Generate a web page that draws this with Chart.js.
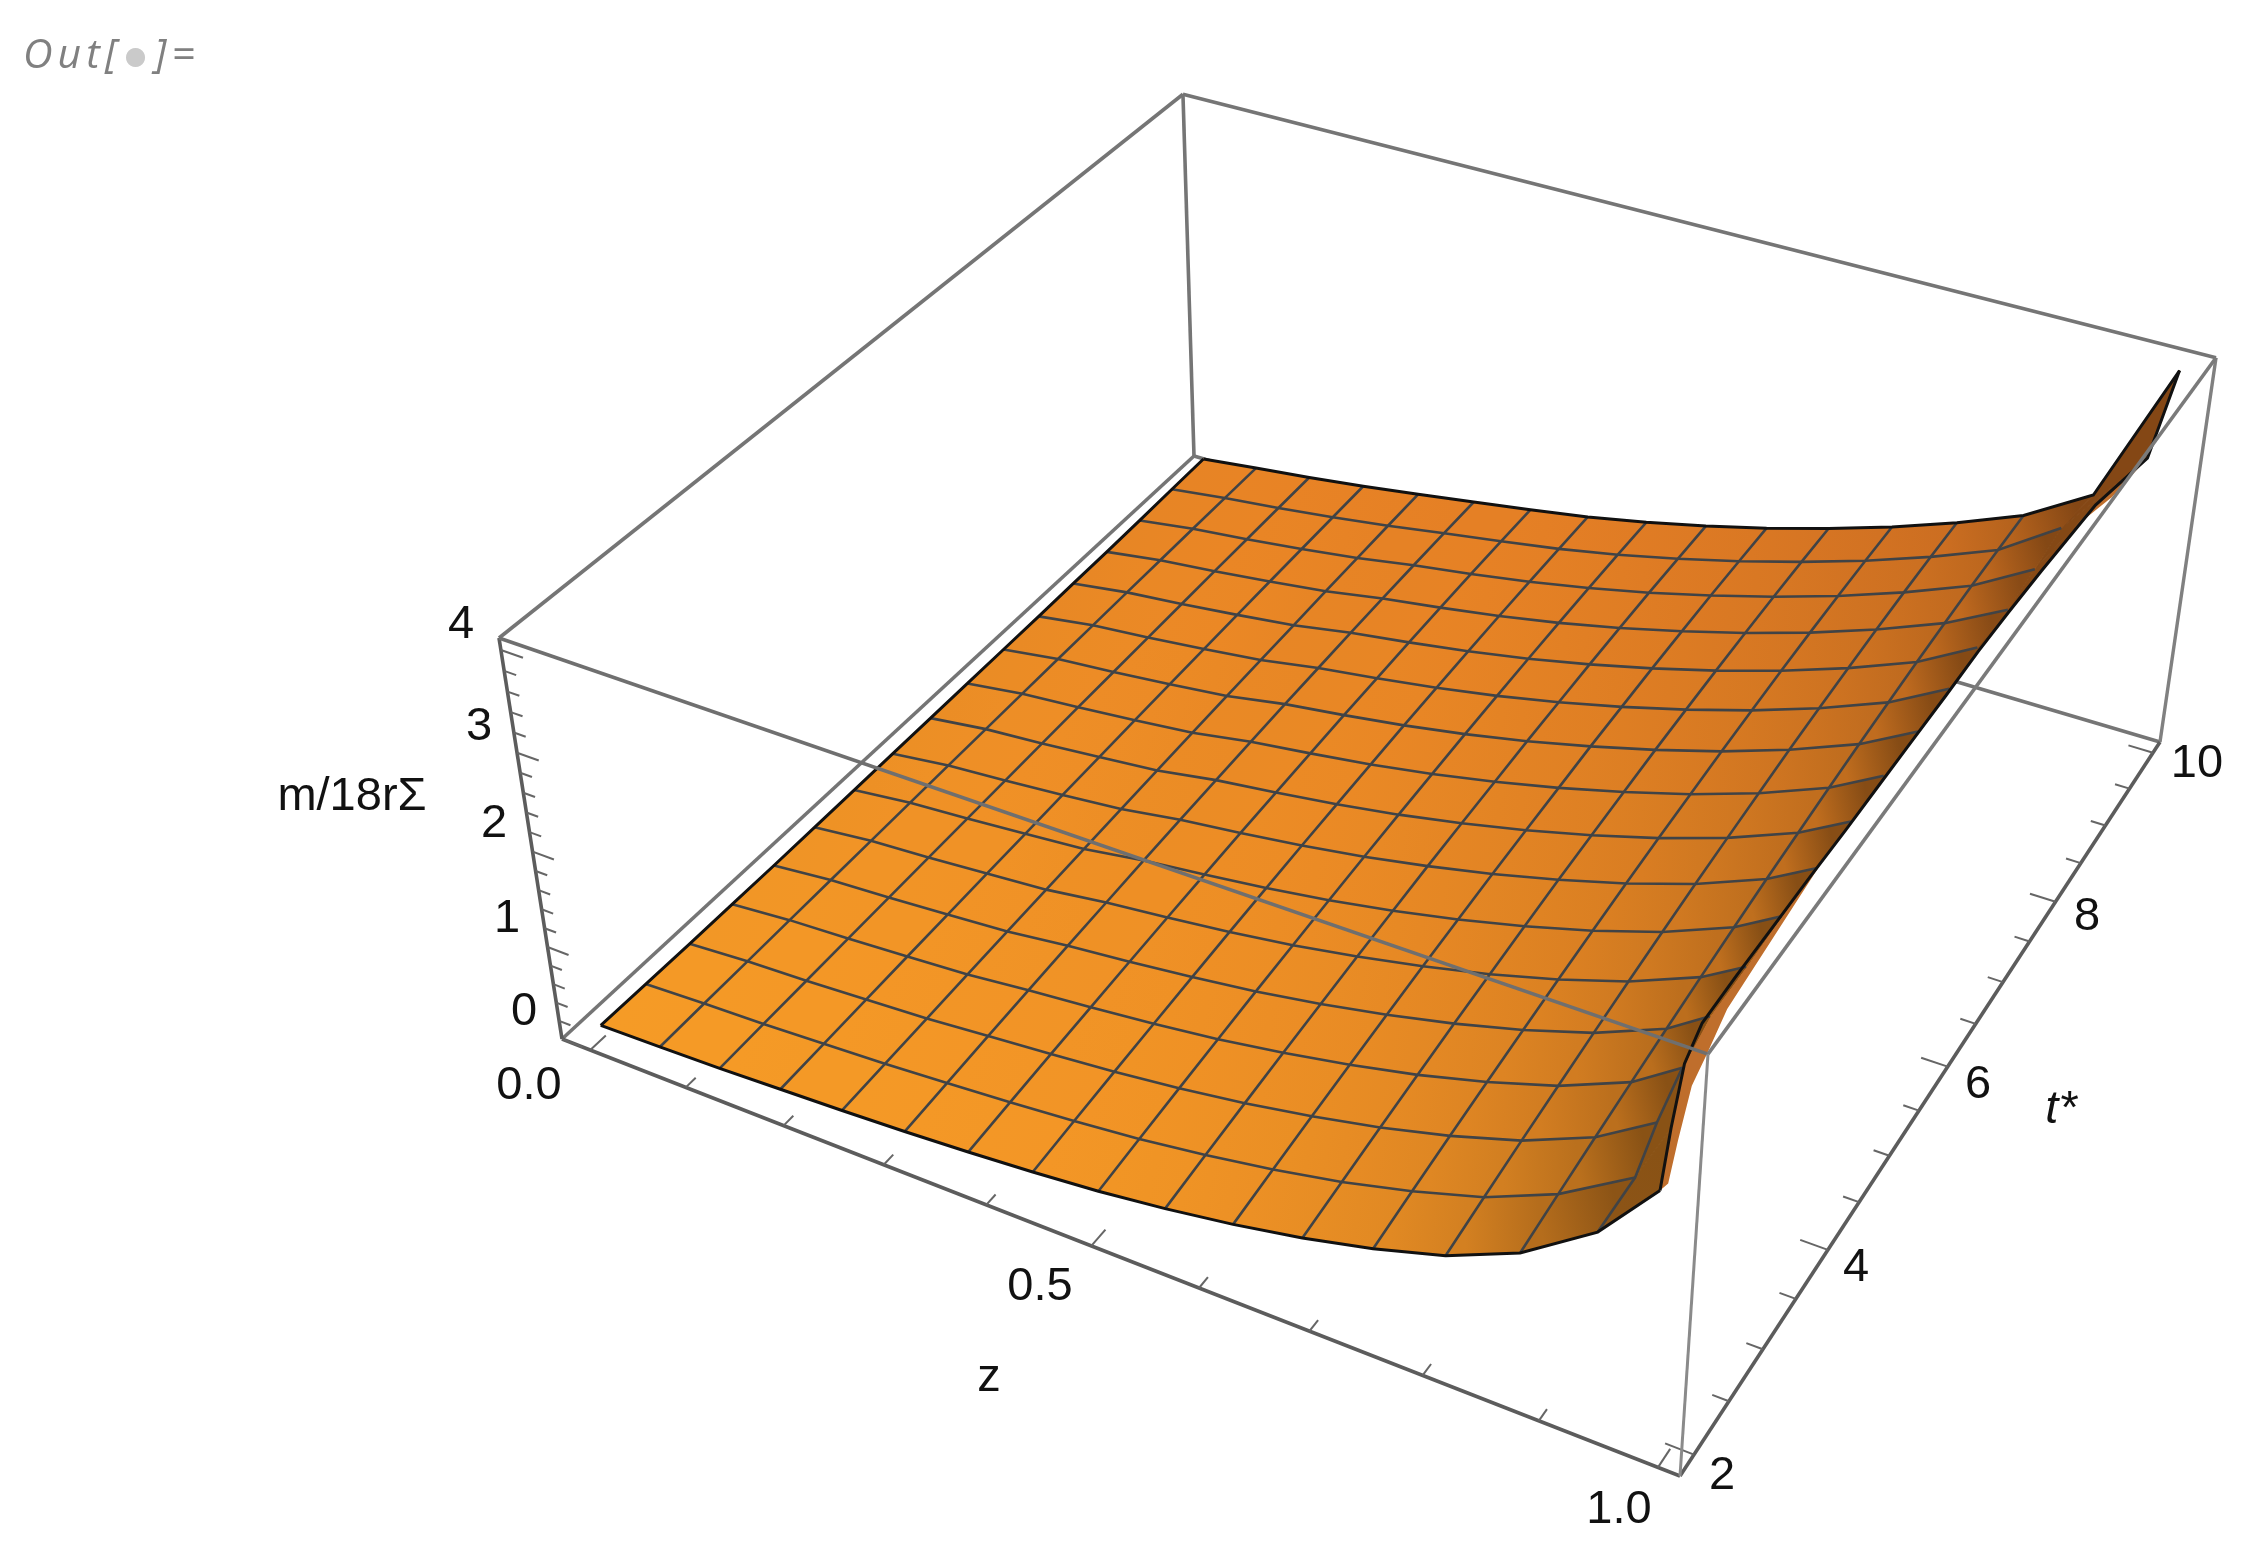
<!DOCTYPE html>
<html>
<head>
<meta charset="utf-8">
<title>m/18r surface</title>
<script src="https://cdn.jsdelivr.net/npm/chart.js@4"></script>
<style>
	html, body { margin: 0; padding: 0; background: #fff; }
	#wrap { position: relative; width: 2247px; height: 1550px; }
	#cellLabel { position: absolute; left: 23px; top: 24px; font: italic 41px "Open Sans"; letter-spacing: 5px; color: #808080; white-space: nowrap; }
	#cellLabel span { color: #cacaca; font-family: "DejaVu Sans"; font-size: 25px; margin: 0 3px 0 3px; position: relative; top: -4px; }
</style>
</head>
<body>
<div id="wrap">
	<div id="cellLabel">Out[<span>●</span>]=</div>
	<canvas id="chartSurface" width="2247" height="1550"></canvas>
</div>
<script>
// axis ranges of the box
const zRange = [-0.02306, 1.0252];
const tRange = [1.804, 10.151];
const mRange = [0, 4.115];

// ticks
const zTicks = [0, 0.1, 0.2, 0.3, 0.4, 0.5, 0.6, 0.7, 0.8, 0.9, 1];
const zTickLabels = ['0.0', '0.5', '1.0'];
const tTicks = [2, 2.5, 3, 3.5, 4, 4.5, 5, 5.5, 6, 6.5, 7, 7.5, 8, 8.5, 9, 9.5, 10];
const tTickLabels = ['2', '4', '6', '8', '10'];
const mTicks = [0, 0.2, 0.4, 0.6, 0.8, 1, 1.2, 1.4, 1.6, 1.8, 2, 2.2, 2.4, 2.6, 2.8, 3, 3.2, 3.4, 3.6, 3.8, 4];
const mTickLabels = ['0', '1', '2', '3', '4'];

// mesh positions
const tNodes = [2, 2.5, 3, 3.5, 4, 4.5, 5, 5.5, 6, 6.5, 7, 7.5, 8, 8.5, 9, 9.5, 10];
const zNodes = [0, 0.0625, 0.125, 0.1875, 0.25, 0.3125, 0.375, 0.4375, 0.5, 0.5625, 0.625, 0.6875, 0.75, 0.8125, 0.875];

// surface height, one row per t, one column per z
const mValues = [
	[0.06, 0.075, 0.095, 0.125, 0.155, 0.19, 0.235, 0.29, 0.355, 0.445, 0.555, 0.69, 0.86, 1.07, 1.38],
	[0.055, 0.087, 0.112, 0.146, 0.182, 0.23, 0.281, 0.342, 0.414, 0.51, 0.627, 0.767, 0.942, 1.155, 1.461],
	[0.05, 0.098, 0.127, 0.166, 0.207, 0.269, 0.325, 0.391, 0.47, 0.572, 0.695, 0.841, 1.019, 1.236, 1.537],
	[0.05, 0.109, 0.143, 0.186, 0.232, 0.305, 0.366, 0.438, 0.523, 0.631, 0.759, 0.91, 1.093, 1.312, 1.61],
	[0.05, 0.12, 0.157, 0.205, 0.256, 0.34, 0.406, 0.483, 0.574, 0.687, 0.821, 0.978, 1.163, 1.385, 1.679],
	[0.055, 0.13, 0.172, 0.224, 0.279, 0.372, 0.444, 0.525, 0.621, 0.74, 0.879, 1.04, 1.23, 1.454, 1.745],
	[0.06, 0.14, 0.186, 0.241, 0.301, 0.403, 0.479, 0.564, 0.666, 0.789, 0.933, 1.099, 1.291, 1.518, 1.806],
	[0.065, 0.15, 0.199, 0.259, 0.324, 0.431, 0.511, 0.601, 0.707, 0.836, 0.984, 1.154, 1.349, 1.578, 1.863],
	[0.07, 0.159, 0.212, 0.275, 0.344, 0.456, 0.54, 0.633, 0.744, 0.876, 1.028, 1.201, 1.399, 1.63, 1.912],
	[0.075, 0.168, 0.225, 0.291, 0.364, 0.479, 0.566, 0.662, 0.777, 0.912, 1.068, 1.245, 1.445, 1.678, 1.958],
	[0.08, 0.177, 0.236, 0.306, 0.383, 0.502, 0.592, 0.692, 0.81, 0.949, 1.109, 1.289, 1.491, 1.726, 2.003],
	[0.085, 0.184, 0.247, 0.32, 0.401, 0.519, 0.612, 0.715, 0.836, 0.978, 1.14, 1.323, 1.528, 1.764, 2.039],
	[0.095, 0.191, 0.257, 0.333, 0.416, 0.536, 0.631, 0.736, 0.86, 1.005, 1.169, 1.354, 1.561, 1.798, 2.072],
	[0.1, 0.198, 0.267, 0.345, 0.432, 0.549, 0.646, 0.753, 0.879, 1.026, 1.193, 1.38, 1.588, 1.826, 2.098],
	[0.11, 0.205, 0.275, 0.356, 0.446, 0.56, 0.658, 0.767, 0.895, 1.043, 1.212, 1.4, 1.609, 1.848, 2.119],
	[0.125, 0.21, 0.283, 0.366, 0.459, 0.566, 0.666, 0.775, 0.904, 1.054, 1.223, 1.413, 1.622, 1.862, 2.132],
	[0.137, 0.215, 0.29, 0.375, 0.47, 0.57, 0.67, 0.78, 0.91, 1.06, 1.23, 1.42, 1.63, 1.87, 2.14],
];

// last mesh line: it folds away near z = 1 so z is read per row
const rimZ = [0.9375, 0.9375, 0.9255, 0.917, 0.911, 0.913, 0.915, 0.917, 0.92, 0.922, 0.926, 0.928, 0.928, 0.931, 0.931, 0.931, 0.9375];
const rimM = [1.87, 1.9, 1.9, 1.93, 1.95, 2, 2.07, 2.13, 2.19, 2.25, 2.31, 2.36, 2.4, 2.42, 2.47, 2.54, 2.55];

// outer edge of the surface
const edgeZ = [0.985, 0.964, 0.945, 0.931, 0.931, 0.934, 0.936, 0.939, 0.941, 0.944, 0.947, 0.95, 0.952, 0.957, 0.978, 1, 1];
const edgeM = [2.487, 2.5, 2.56, 2.43, 2.44, 2.5, 2.54, 2.59, 2.63, 2.69, 2.75, 2.82, 2.84, 2.91, 3.28, 3.47, 4.015];

// underside seen past the edge
const foldT = [2, 2.5, 3, 3.5, 4, 6, 8, 9, 9.5, 9.5];
const foldZ = [0.991, 0.97, 0.952, 0.936, 0.925, 0.912, 0.935, 0.957, 0.973, 1];
const foldM = [2.58, 2.4, 2.375, 2.13, 2.08, 2.04, 2.57, 2.94, 2.99, 3.47];

// camera fitted to the box, works on box coordinates 0..1
const camera = [
	[914.74, 891.66, -99.15, 562],
	[258.42, -483.83, -447.22, 1039],
	[-0.12099, 0.21747, -0.07245, 1],
];
const zTickShift = 0.007;

function project(z, t, m) {
	let u = (z - zRange[0]) / (zRange[1] - zRange[0]);
	let v = (t - tRange[0]) / (tRange[1] - tRange[0]);
	let w = (m - mRange[0]) / (mRange[1] - mRange[0]);
	let p = camera.map((r) => r[0] * u + r[1] * v + r[2] * w + r[3]);
	return { x: p[0] / p[2], y: p[1] / p[2] };
}

// full node lists, rim and edge added on the right
const zAt = (i, j) => (j < 15 ? zNodes[j] : j === 15 ? rimZ[i] : edgeZ[i]);
const mAt = (i, j) => (j < 15 ? mValues[i][j] : j === 15 ? rimM[i] : edgeM[i]);
const node = (i, j) => project(zAt(i, j), tNodes[i], mAt(i, j));

let ctx = document.getElementById('chartSurface').getContext('2d');
let datasets = [];

function addLine(points, color, width) {
	datasets.push({
		data: points,
		showLine: true,
		borderColor: color,
		borderWidth: width,
		pointRadius: 0,
		fill: false,
		order: -datasets.length,
	});
}

function addShape(points, color) {
	datasets.push({
		data: points.concat([points[0]]),
		showLine: true,
		borderColor: 'rgba(0,0,0,0)',
		borderWidth: 0,
		backgroundColor: color,
		pointRadius: 0,
		fill: 'shape',
		order: -datasets.length,
	});
}

// shading, darker where the surface climbs quicker
function nodeColor(i, j) {
	let a = Math.max(j - 1, 0);
	let b = Math.min(j + 1, 16);
	let slope = (mAt(i, b) - mAt(i, a)) / Math.max(zAt(i, b) - zAt(i, a), 0.04);
	let shade = Math.max(1 / Math.sqrt(1 + (slope / 7) * (slope / 7)), 0.56);
	let r = (245 - 10 * i / 16) * shade;
	let g = (155 - 22 * i / 16 - 8 * j / 16) * shade;
	let c = 38 * shade;
	return `rgb(${Math.round(r)},${Math.round(g)},${Math.round(c)})`;
}

const corner = (zi, ti, mi) => project(zRange[zi], tRange[ti], mRange[mi]);

// box parts behind the surface
const boxBack = '#757575';
addLine([corner(0, 0, 1), corner(0, 1, 1)], boxBack, 3.6);
addLine([corner(0, 1, 1), corner(1, 1, 1)], boxBack, 3.6);
addLine([corner(0, 1, 0), corner(0, 1, 1)], boxBack, 3.6);
addLine([corner(0, 0, 0), corner(0, 1, 0)], boxBack, 3.6);
addLine([corner(0, 1, 0), corner(1, 1, 0)], boxBack, 3.6);
addLine([corner(1, 1, 0), corner(1, 1, 1)], '#808080', 3.4);
addLine([corner(0, 0, 0), corner(1, 0, 0)], '#5c5c5c', 3.6);
addLine([corner(1, 0, 0), corner(1, 1, 0)], '#5c5c5c', 3.6);
addLine([corner(0, 0, 0), corner(0, 0, 1)], '#5c5c5c', 3.6);

// ticks
zTicks.forEach((z, k) => {
	let len = k % 5 === 0 ? 0.17 : 0.11;
	addLine([project(z + zTickShift, tRange[0], 0), project(z + zTickShift, tRange[0] + len, 0)], '#666666', 2);
});
tTicks.forEach((t, k) => {
	let len = k % 4 === 0 ? 0.024 : 0.014;
	addLine([project(zRange[1], t, 0), project(zRange[1] - len, t, 0)], '#666666', 2);
});
mTicks.forEach((m, k) => {
	let len = k % 5 === 0 ? 0.022 : 0.012;
	addLine([project(zRange[0], tRange[0], m), project(zRange[0] + len, tRange[0], m)], '#666666', 2);
});

// underside first
let foldPoints = foldT.map((t, k) => project(foldZ[k], t, foldM[k]));
let edgeBack = [];
for (let i = 15; i >= 0; i--) edgeBack.push(node(i, 16));
addShape(foldPoints.concat(edgeBack), '#bf6e2c');

// mesh cells, last column first so the rest sits over it
for (let j = 15; j >= 0; j--) {
	for (let i = 0; i < 16; i++) {
		let a = node(i, j);
		let b = node(i + 1, j);
		let c = node(i + 1, j + 1);
		let d = node(i, j + 1);
		let grad = ctx.createLinearGradient((a.x + b.x) / 2, (a.y + b.y) / 2, (c.x + d.x) / 2, (c.y + d.y) / 2);
		let left = nodeColor(i, j);
		let right = nodeColor(i, j + 1);
		grad.addColorStop(0, left);
		grad.addColorStop(1, right);
		addShape([a, b, c, d], grad);
		datasets[datasets.length - 1].borderColor = grad;
		datasets[datasets.length - 1].borderWidth = 1;
	}
}

// mesh lines, the last z line only shows at the low t end, further up it merges into the edge
const meshColor = '#404346';
for (let i = 1; i < 16; i++) {
	let line = [];
	for (let j = 0; j <= 15; j++) line.push(node(i, j));
	addLine(line, meshColor, 2.6);
}
for (let j = 1; j <= 15; j++) {
	let line = [];
	let last = j === 15 ? 3 : 16;
	for (let i = 0; i <= last; i++) line.push(node(i, j));
	addLine(line, meshColor, 2.6);
}

// surface boundary
const rowLine = (i) => {
	let line = [];
	for (let j = 0; j <= 16; j++) line.push(node(i, j));
	return line;
};
const colLine = (j) => {
	let line = [];
	for (let i = 0; i <= 16; i++) line.push(node(i, j));
	return line;
};
addLine(rowLine(0), '#111111', 3);
addLine(rowLine(16), '#111111', 3);
addLine(colLine(0), '#111111', 3);
addLine(colLine(16), '#111111', 3);

// box edges passing in front
addLine([corner(0, 0, 1), corner(1, 0, 1)], '#6f6f6f', 3.6);
addLine([corner(1, 0, 1), corner(1, 1, 1)], '#7a7a7a', 3.6);
addLine([corner(1, 0, 0), corner(1, 0, 1)], '#8a8a8a', 3);

// axis text, anchored to pixels beside each axis
const labelFont = '47px "Liberation Sans"';
const axisText = [
	{ text: zTickLabels[0], x: 529, y: 1086 },
	{ text: zTickLabels[1], x: 1040, y: 1287 },
	{ text: zTickLabels[2], x: 1619, y: 1510 },
	{ text: tTickLabels[0], x: 1722, y: 1476 },
	{ text: tTickLabels[1], x: 1856, y: 1268 },
	{ text: tTickLabels[2], x: 1978, y: 1085 },
	{ text: tTickLabels[3], x: 2087, y: 917 },
	{ text: tTickLabels[4], x: 2197, y: 764 },
	{ text: mTickLabels[0], x: 524, y: 1012 },
	{ text: mTickLabels[1], x: 507, y: 919 },
	{ text: mTickLabels[2], x: 494, y: 824 },
	{ text: mTickLabels[3], x: 479, y: 727 },
	{ text: mTickLabels[4], x: 461, y: 625 },
	{ text: 'z', x: 989, y: 1378 },
	{ text: 'm/18rΣ', x: 352, y: 797 },
	{ text: 't*', x: 2061, y: 1110, italic: true },
];

const axisTextPlugin = {
	id: 'axisText',
	afterDatasetsDraw(chart) {
		let c = chart.ctx;
		c.save();
		c.fillStyle = '#111111';
		c.textAlign = 'center';
		c.textBaseline = 'middle';
		axisText.forEach((l) => {
			c.font = (l.italic ? 'italic ' : '') + labelFont;
			c.fillText(l.text, chart.scales.x.getPixelForValue(l.x), chart.scales.y.getPixelForValue(l.y));
		});
		c.restore();
	},
};

new Chart(ctx, {
	type: 'scatter',
	data: { datasets: datasets },
	options: {
		responsive: false,
		animation: false,
		events: [],
		devicePixelRatio: 1,
		layout: { padding: 0 },
		clip: false,
		plugins: { legend: { display: false }, tooltip: { enabled: false } },
		scales: {
			x: { type: 'linear', display: false, min: 0, max: 2247 },
			y: { type: 'linear', display: false, min: 0, max: 1550, reverse: true },
		},
	},
	plugins: [axisTextPlugin],
});
</script>
</body>
</html>
